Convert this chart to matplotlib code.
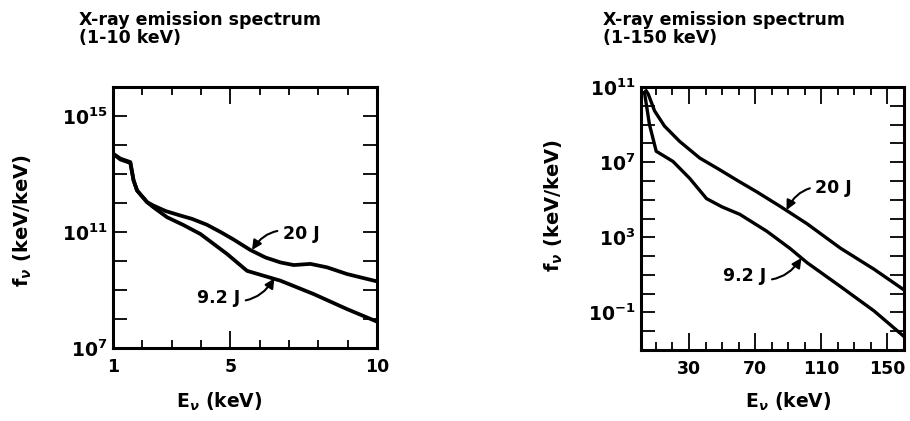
import matplotlib
matplotlib.use("Agg")
import matplotlib.pyplot as plt
from matplotlib.ticker import FixedLocator, NullLocator
import numpy as np

plt.rcParams['font.family'] = ['DejaVu Sans']
plt.rcParams['font.weight'] = 'bold'
plt.rcParams['mathtext.fontset'] = 'custom'
plt.rcParams['mathtext.rm'] = 'DejaVu Sans:bold'
plt.rcParams['mathtext.it'] = 'DejaVu Sans:bold:italic'
plt.rcParams['mathtext.bf'] = 'DejaVu Sans:bold'

# 1-10 keV panel (log10 of f_nu)
e_low_20 = [1.0, 1.25, 1.59, 1.70, 1.82, 2.16, 2.38, 2.8, 3.29, 3.7, 4.2, 4.7, 5.11,
            5.68, 6.2, 6.71, 7.16, 7.73, 8.30, 8.98, 9.5, 9.95]
f_low_20 = [13.70, 13.53, 13.41, 12.78, 12.43, 12.03, 11.91, 11.72, 11.57, 11.45,
            11.25, 10.98, 10.74, 10.38, 10.12, 9.95, 9.86, 9.90, 9.78, 9.55, 9.42, 9.31]
e_low_9 = [1.0, 1.25, 1.59, 1.70, 1.82, 2.16, 2.38, 2.84, 3.4, 3.98, 4.89, 5.57, 6.71,
           7.84, 8.98, 9.95]
f_low_9 = [13.70, 13.50, 13.38, 12.78, 12.43, 12.03, 11.85, 11.51, 11.24, 10.93, 10.24,
           9.66, 9.32, 8.86, 8.34, 7.93]

# 1-150 keV panel (log10 of f_nu)
e_high_20 = [4.1, 5.4, 9.2, 15.2, 24.3, 36.5, 48.7, 58.8, 71.0, 85.1, 101.4,
             121.6, 141.9, 160]
f_high_20 = [10.8, 10.62, 9.73, 8.92, 8.11, 7.22, 6.59, 6.05, 5.42, 4.65, 3.72,
             2.42, 1.30, 0.2]
e_high_9 = [3.1, 6.1, 10.2, 20.3, 30.4, 40.6, 50.0, 60.8, 77.1, 91.2, 101.4,
            121.6, 141.9, 160]
f_high_9 = [10.71, 9.01, 7.58, 7.04, 6.14, 5.06, 4.62, 4.22, 3.32, 2.40, 1.65,
            0.38, -0.92, -2.28]

low_xticks = [1, 5, 10]
low_xminor = [2, 3, 4, 6, 7, 8, 9]
low_ylabels = {7: '$10^7$', 11: '$10^{11}$', 15: '$10^{15}$'}
high_xticks = [30, 70, 110, 150]
high_xminor = [10, 20, 40, 50, 60, 80, 90, 100, 120, 130, 140]
high_ylabels = {-1: '$10^{-1}$', 3: '$10^3$', 7: '$10^7$', 11: '$10^{11}$'}

fig = plt.figure(figsize=(9.10, 4.21), dpi=100)
ax1 = fig.add_axes([0.1242, 0.1734, 0.2901, 0.620])
ax2 = fig.add_axes([0.7044, 0.1686, 0.2890, 0.6247])


def style_axes(ax, xlim, ylo, yhi, xmaj, xmin, ylabs):
    ax.set_yscale('log')
    ax.set_xlim(*xlim)
    ax.set_ylim(10.0 ** ylo, 10.0 ** yhi)
    ax.xaxis.set_major_locator(FixedLocator(xmaj))
    ax.xaxis.set_minor_locator(FixedLocator(xmin))
    ax.set_xticklabels([str(v) for v in xmaj])
    decades = list(range(ylo, yhi + 1))
    ax.yaxis.set_major_locator(FixedLocator([10.0 ** k for k in decades]))
    ax.yaxis.set_minor_locator(NullLocator())
    ax.set_yticklabels([ylabs.get(k, '') for k in decades])
    ax.tick_params(axis='x', which='major', direction='in', length=12, width=1.3,
                   top=True, labelsize=12.5, pad=7)
    ax.tick_params(axis='x', which='minor', direction='in', length=6, width=1.3,
                   top=True)
    ax.tick_params(axis='y', which='major', direction='in', length=10, width=1.3,
                   right=True, labelsize=13.5, pad=4)
    for s in ax.spines.values():
        s.set_linewidth(2.2)


ax1.plot(e_low_20, 10.0 ** np.array(f_low_20), color='black', lw=2.7)
ax1.plot(e_low_9, 10.0 ** np.array(f_low_9), color='black', lw=2.7)
style_axes(ax1, (1, 10), 7, 16, low_xticks, low_xminor, low_ylabels)

ax2.plot(e_high_20, 10.0 ** np.array(f_high_20), color='black', lw=2.4)
ax2.plot(e_high_9, 10.0 ** np.array(f_high_9), color='black', lw=2.4)
style_axes(ax2, (1, 160), -3, 11, high_xticks, high_xminor, high_ylabels)

arrow = dict(arrowstyle='-|>', color='black', lw=1.5, mutation_scale=14,
             connectionstyle='arc3,rad=0.4', shrinkA=2, shrinkB=0)
ax1.annotate('20 J', xy=(5.74, 10 ** 10.38), xytext=(6.79, 10 ** 10.94),
             ha='left', va='center', fontsize=12.5, arrowprops=arrow)
ax1.annotate('9.2 J', xy=(6.5, 10 ** 9.4), xytext=(3.86, 10 ** 8.74),
             ha='left', va='center', fontsize=12.5, arrowprops=arrow)
ax2.annotate('20 J', xy=(89, 10 ** 4.45), xytext=(106.4, 10 ** 5.6),
             ha='left', va='center', fontsize=12.5, arrowprops=arrow)
ax2.annotate('9.2 J', xy=(98, 10 ** 1.9), xytext=(50.7, 10 ** 0.95),
             ha='left', va='center', fontsize=12.5, arrowprops=arrow)

for ax, xl, yl, xtitle, title in [
        (ax1, (0.241, 0.045), (0.025, 0.477), 0.0868, 'X-ray emission spectrum\n(1-10 keV)'),
        (ax2, (0.866, 0.045), (0.609, 0.513), 0.663, 'X-ray emission spectrum\n(1-150 keV)')]:
    fig.text(xl[0], xl[1], r'E$_\nu$ (keV)', ha='center', va='center', fontsize=13.5)
    fig.text(yl[0], yl[1], r'f$_\nu$ (keV/keV)', ha='center', va='center',
             rotation=90, fontsize=14)
    fig.text(xtitle, 0.975, title, ha='left', va='top', fontsize=12.5,
             linespacing=1.05)

fig.savefig('out.png', dpi=100)
